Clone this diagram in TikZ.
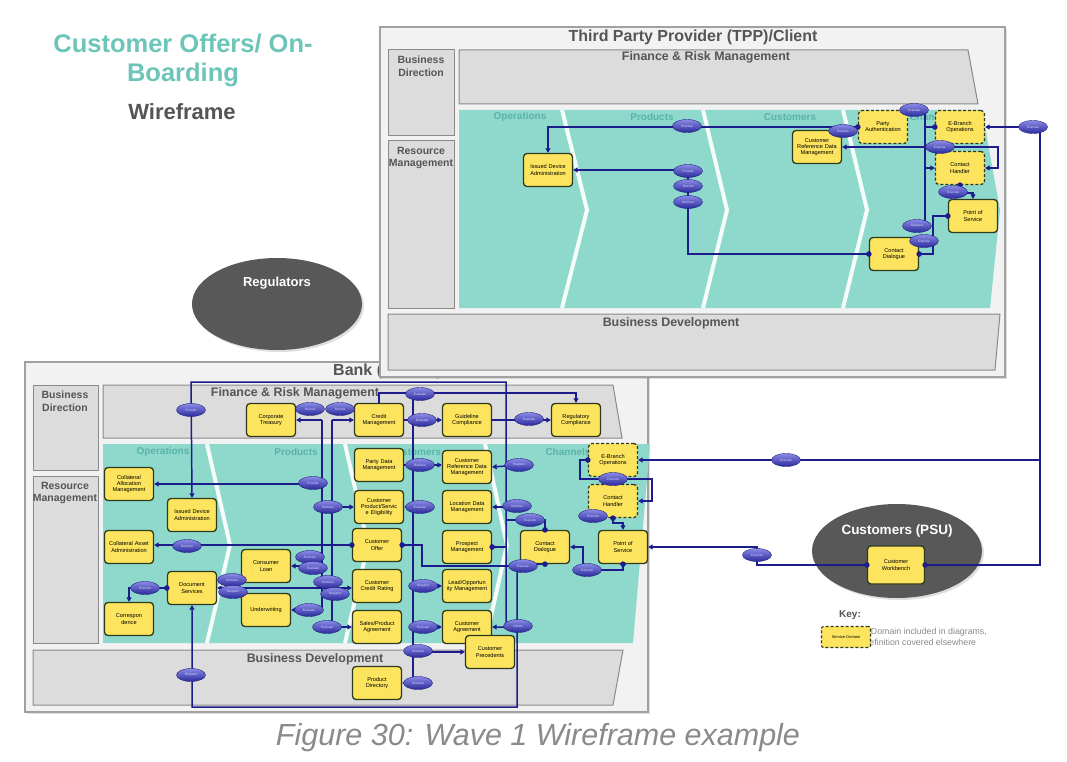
\documentclass[tikz,border=0pt]{standalone}
\usepackage{fontspec}
\setmainfont{Liberation Sans}
\usetikzlibrary{shapes.geometric,arrows.meta,calc,shadows}
\hyphenpenalty=10000
\exhyphenpenalty=10000
\definecolor{teal1}{HTML}{8FD9CC}
\definecolor{lanetxt}{HTML}{5AB3A7}
\definecolor{boxgray}{HTML}{DCDCDC}
\definecolor{frameg}{HTML}{F2F2F2}
\definecolor{edgeg}{HTML}{8A8A8A}
\definecolor{conn}{HTML}{1C1C8C}
\definecolor{sdyellow}{HTML}{FDE45E}
\definecolor{sdedge}{HTML}{2E3A1E}
\definecolor{titleteal}{HTML}{6CC5B8}
\definecolor{txtgray}{HTML}{555555}
\definecolor{blobgray}{HTML}{585858}
\definecolor{actlight}{HTML}{8A8AE6}
\definecolor{actdark}{HTML}{2A2A9C}
\definecolor{captgray}{HTML}{8A8A8A}
\tikzset{
  sd/.style={draw=sdedge, fill=sdyellow, line width=1.3pt, rounded corners=3.5pt,
    minimum width=49pt, minimum height=33pt, inner sep=1pt, text width=46pt,
    align=center, font=\fontsize{5.6}{6.2}\selectfont},
  sdx/.style={sd, dash pattern=on 3pt off 2pt},
  act/.style={ellipse, minimum width=29pt, minimum height=13pt, inner sep=0pt,
    draw=actdark!80!black, line width=0.4pt, top color=actlight, bottom color=actdark,
    text=white!85!blue, font=\fontsize{3.2}{3.5}\selectfont},
  wire/.style={draw=conn, line width=1.5pt},
  wto/.style={wire, -{Triangle[length=4.5pt,width=5pt]}},
  wboth/.style={wire, {Triangle[length=4.5pt,width=5pt]}-{Triangle[length=4.5pt,width=5pt]}},
  bgbox/.style={fill=boxgray, draw=edgeg, line width=1pt},
  frame/.style={fill=frameg, draw=edgeg!80, line width=1.1pt,
    drop shadow={shadow xshift=2pt, shadow yshift=-2pt, opacity=0.25}},
  boxlbl/.style={font=\bfseries\fontsize{10.5}{12.5}\selectfont, text=txtgray, align=center},
  lane/.style={font=\bfseries\fontsize{10}{12}\selectfont, text=lanetxt},
  bigttl/.style={font=\bfseries\fontsize{12.4}{14}\selectfont, text=txtgray},
  chev/.style={draw=white!92!teal1, line width=4pt},
  blob/.style={ellipse, fill=blobgray, draw=none,
    drop shadow={shadow xshift=2pt, shadow yshift=-2pt, opacity=0.25}},
}
\newcommand{\wdot}[1]{\fill[conn] #1 circle (2.8pt);}
\begin{document}
\begin{tikzpicture}[x=1pt,y=-1pt]
\useasboundingbox (0,0) rectangle (1067,762);
\fill[white] (0,0) rectangle (1067,762);

% ---------- titles ----------
\node[font=\bfseries\fontsize{25.5}{28}\selectfont, text=titleteal] (ttl1) at (183,44) {Customer Offers/ On-};
\node[font=\bfseries\fontsize{25.5}{28}\selectfont, text=titleteal] (ttl2) at (183,75) {Boarding};
\node[font=\bfseries\fontsize{22}{24}\selectfont, text=txtgray] (ttl3) at (182,112) {Wireframe};

% ---------- Regulators ----------
\node[blob, minimum width=170pt, minimum height=92pt] (regblob) at (277,304) {};
\node[font=\bfseries\fontsize{13}{15}\selectfont, text=white] (regl) at (277,283) {Regulators};

% ---------- Bank frame (background) ----------
\path[frame] (25,362) rectangle (648,712);
\node[font=\bfseries\fontsize{16}{18}\selectfont, text=txtgray, anchor=west, inner sep=0pt] (banktitle) at (333,371) {Bank (ASPSP)};

% ---------- TPP frame ----------
\path[frame] (380,27) rectangle (1005,377);
\node[font=\bfseries\fontsize{16}{18}\selectfont, text=txtgray] (tpptitle) at (693,37) {Third Party Provider (TPP)/Client};
\draw[bgbox] (388,50) rectangle (454,136);
\node[boxlbl] (tbd) at (421,66) {Business\\Direction};
\draw[bgbox] (388,141) rectangle (454,308);
\node[boxlbl] (trm) at (421,158) {Resource\\Management};
\draw[bgbox] (459,50) -- (968,50) -- (978,104) -- (459,104) -- cycle;
\node[bigttl] (tfrm) at (706,57) {Finance \& Risk Management};
\fill[teal1] (459,110) -- (982,110) -- (1000,210) -- (990,308) -- (459,308) -- cycle;
\draw[chev] (562,110) -- (587,210) -- (562,308);
\draw[chev] (703,110) -- (727,210) -- (703,308);
\draw[chev] (843,110) -- (867,210) -- (843,308);
\node[lane] (tl1) at (520,117) {Operations};
\node[lane] (tl2) at (652,117) {Products};
\node[lane] (tl3) at (790,117) {Customers};
\node[lane] (tl4) at (932,117) {Channels};
\draw[bgbox] (388,314) -- (1000,314) -- (995,370) -- (388,370) -- cycle;
\node[bigttl] (tbdev) at (671,323) {Business Development};

% TPP nodes
\node[sd]  (t_ida)  at (548,170) {Issued Device Administration};
\node[sdx] (t_pa)   at (883,127) {Party Authentication};
\node[sdx] (t_eb)   at (960,127) {E-Branch Operations};
\node[sd]  (t_crdm) at (817,147) {Customer Reference Data Management};
\node[sdx] (t_ch)   at (960,168) {Contact\\Handler};
\node[sd]  (t_pos)  at (973,216) {Point of\\Service};
\node[sd]  (t_cd)   at (894,254) {Contact\\Dialogue};

% ---------- Bank background boxes ----------
\draw[bgbox] (33,385) rectangle (98,470);
\node[boxlbl] (bbd) at (65,401) {Business\\Direction};
\draw[bgbox] (33,476) rectangle (98,643);
\node[boxlbl] (brm) at (65,493) {Resource\\Management};
\draw[bgbox] (103,385) -- (613,385) -- (622,438) -- (103,438) -- cycle;
\node[bigttl] (bfrm) at (295,393) {Finance \& Risk Management};
\fill[teal1] (103,444) -- (650,444) -- (633,643) -- (103,643) -- cycle;
\draw[chev] (207,444) -- (230,545) -- (207,643);
\draw[chev] (345,444) -- (368,545) -- (345,643);
\draw[chev] (485,444) -- (507,545) -- (485,643);
\node[lane] (bl1) at (163,452) {Operations};
\node[lane] (bl2) at (296,452) {Products};
\node[lane] (bl3) at (415,452) {Customers};
\node[lane] (bl4) at (568,452) {Channels};
\draw[bgbox] (33,650) -- (623,650) -- (613,705) -- (33,705) -- cycle;
\node[bigttl] (bbdev) at (315,659) {Business Development};

% Bank nodes
\node[sd]  (b_ct)   at (271,420) {Corporate Treasury};
\node[sd]  (b_cm)   at (379,420) {Credit Management};
\node[sd]  (b_gc)   at (467,420) {Guideline Compliance};
\node[sd]  (b_rc)   at (576,420) {Regulatory Compliance};
\node[sd]  (b_pdm)  at (379,465) {Party Data Management};
\node[sd]  (b_crdm) at (467,467) {Customer Reference Data Management};
\node[sdx] (b_eb)   at (613,460) {E-Branch Operations};
\node[sd]  (b_cpse) at (379,507) {Customer Product/Servic e Eligibility};
\node[sd]  (b_ldm)  at (467,507) {Location Data Management};
\node[sdx] (b_ch)   at (613,501) {Contact\\Handler};
\node[sd]  (b_cam)  at (129,484) {Collateral Allocation Management};
\node[sd]  (b_ida)  at (192,515) {Issued Device Administration};
\node[sd]  (b_caa)  at (129,547) {Collateral Asset Administration};
\node[sd]  (b_co)   at (377,545) {Customer\\Offer};
\node[sd]  (b_pm)   at (467,547) {Prospect Management};
\node[sd]  (b_cd)   at (545,547) {Contact\\Dialogue};
\node[sd]  (b_pos)  at (623,547) {Point of\\Service};
\node[sd]  (b_ds)   at (192,588) {Document Services};
\node[sd]  (b_cl)   at (266,566) {Consumer\\Loan};
\node[sd]  (b_ccr)  at (377,586) {Customer Credit Rating};
\node[sd]  (b_lom)  at (467,586) {Lead/Opportun ity Management};
\node[sd]  (b_corr) at (129,619) {Correspon\\dence};
\node[sd]  (b_uw)   at (266,610) {Underwriting};
\node[sd]  (b_spa)  at (377,627) {Sales/Product Agreement};
\node[sd]  (b_ca)   at (467,627) {Customer Agreement};
\node[sd]  (b_cp)   at (490,652) {Customer Precedents};
\node[sd]  (b_pd)   at (377,683) {Product\\Directory};

% ---------- Customers (PSU) ----------
\node[blob, minimum width=170pt, minimum height=94pt] (psublob) at (897,551) {};
\node[font=\bfseries\fontsize{13.5}{15}\selectfont, text=white] (psul) at (897,531) {Customers (PSU)};
\node[sd, minimum width=57pt, minimum height=38pt, text width=50pt] (cw) at (896,565) {Customer Workbench};

% ---------- TPP connectors ----------
\draw[wto] (t_pa.west) -| (t_ida.north);
\draw[wto] (t_cd.west) -| (688,170) -- (t_ida.east);
\draw[wire] (914,110) -- (925,110) -- (925,226);
\draw[wire] (t_eb.west) -- (925,127);
\draw[wto] (925,168) -- (t_ch.west);
\draw[wto] (925,147) -- (t_crdm.east);
\draw[wto] (925,147) -- (998,147) |- (t_ch.east);
\draw[wto] (t_ch.south) -- (960,193) -| (t_pos.north);
\draw[wire] (t_pos.west) -| (933,254) -- (t_cd.east);
\draw[wto] (cw.east) -| (1040,127) -- (t_eb.east);
\draw[wto] (1040,460) -- (b_eb.east);
\wdot{(t_pa.west)} \wdot{(t_cd.west)} \wdot{(t_eb.west)} \wdot{(t_ch.south)}
\wdot{(t_pos.west)} \wdot{(t_cd.east)} \wdot{(cw.east)} \wdot{(cw.west)}

% ---------- Bank connectors ----------
\draw[wboth] (b_ida.north) -- (191,382) -- (506,382) -- (506,627) -- (b_ca.east);
\draw[wto] (b_cm.north) |- (576,393) -- (b_rc.north);
\draw[wire] (413,393) -- (413,683);
\draw[wto] (b_cm.east) -- (b_gc.west);
\draw[wto] (b_gc.east) -- (b_rc.west);
\draw[wire] (322,420) -- (322,610);
\draw[wto] (322,420) -- (b_ct.east);
\draw[wto] (322,484) -- (b_cam.east);
\draw[wto] (322,566) -- (b_cl.east);
\draw[wto] (322,610) -- (b_uw.east);
\draw[wire] (332,420) -- (332,627);
\draw[wto] (332,420) -- (b_cm.west);
\draw[wto] (332,507) -- (b_cpse.west);
\draw[wto] (332,627) -- (b_spa.west);
\draw[wboth] (b_ds.east) -- (b_ds.east -| b_ccr.west);
\draw[wto] (b_ds.west) -| (b_corr.north);
\draw[wto] (b_cd.south) -- (517,564) -- (517,707) -| (b_ds.south);
\draw[wire] (b_co.east) -- (422,545) |- (517,566);
\draw[wto] (b_co.west) -- (b_co.west -| b_caa.east);
\draw[wire] (b_pm.east) -- (506,547);
\draw[wto] (b_pos.south) |- (583,570) |- (b_cd.east);
\draw[wire] (b_cd.north) |- (506,520);
\draw[wto] (b_ch.south) -- (613,523) -| (b_pos.north);
\draw[wto] (b_eb.west) -- (580,460) -- (580,479) -- (652,479) |- (b_ch.east);
\draw[wto] (cw.west) -- (757,565) -- (757,547) -- (b_pos.east);
\draw[wto] (b_pdm.east) -- (b_pdm.east -| b_crdm.west);
\draw[wto] (413,507) -- (b_cpse.east);
\draw[wto] (413,586) -- (b_lom.west);
\draw[wto] (413,627) -- (b_ca.west);
\draw[wto] (413,652) -- (b_cp.west);
\draw[wto] (413,683) -- (b_pd.east);
\draw[wto] (506,466) -- (b_crdm.east);
\draw[wto] (506,507) -- (b_ldm.east);
\wdot{(b_co.east)} \wdot{(b_co.west)} \wdot{(b_ds.west)} \wdot{(b_cd.south)}
\wdot{(b_cd.north)} \wdot{(b_pm.east)} \wdot{(b_pos.south)} \wdot{(b_ch.south)}
\wdot{(b_eb.west)}

% ---------- TPP action ellipses ----------
\node[act] (ta1) at (687,126) {Retrieve};
\node[act] (ta2) at (688,171) {Provide};
\node[act] (ta3) at (688,186) {Record};
\node[act] (ta4) at (688,202) {Retrieve};
\node[act] (ta5) at (843,131) {Retrieve};
\node[act] (ta6) at (914,110) {Evaluate};
\node[act] (ta7) at (940,147) {Execute};
\node[act] (ta8) at (953,192) {Execute};
\node[act] (ta9) at (917,226) {Request};
\node[act] (ta10) at (924,241) {Execute};
\node[act] (ta11) at (1033,127) {Execute};

% ---------- Bank action ellipses ----------
\node[act] (ba1) at (191,410) {Provide};
\node[act] (ba2) at (420,394) {Evaluate};
\node[act] (ba3) at (422,420) {Evaluate};
\node[act] (ba4) at (529,419) {Evaluate};
\node[act] (ba5) at (310,409) {Record};
\node[act] (ba6) at (340,409) {Record};
\node[act] (ba7) at (420,465) {Retrieve};
\node[act] (ba8) at (519,465) {Register};
\node[act] (ba9) at (313,483) {Provide};
\node[act] (ba10) at (328,507) {Retrieve};
\node[act] (ba11) at (420,507) {Evaluate};
\node[act] (ba12) at (517,506) {Retrieve};
\node[act] (ba13) at (530,520) {Execute};
\node[act] (ba14) at (613,479) {Execute};
\node[act] (ba15) at (593,516) {Execute};
\node[act] (ba16) at (187,546) {Retrieve};
\node[act] (ba17) at (310,557) {Execute};
\node[act] (ba18) at (313,568) {Evaluate};
\node[act] (ba19) at (523,566) {Execute};
\node[act] (ba20) at (587,570) {Execute};
\node[act] (ba21) at (232,580) {Retrieve};
\node[act] (ba22) at (233,592) {Request};
\node[act] (ba23) at (328,582) {Retrieve};
\node[act] (ba24) at (335,594) {Request};
\node[act] (ba25) at (145,588) {Execute};
\node[act] (ba26) at (423,586) {Request};
\node[act] (ba27) at (309,610) {Evaluate};
\node[act] (ba28) at (327,627) {Evaluate};
\node[act] (ba29) at (423,627) {Evaluate};
\node[act] (ba30) at (518,626) {Initiate};
\node[act] (ba31) at (418,651) {Retrieve};
\node[act] (ba32) at (418,683) {Retrieve};
\node[act] (ba33) at (191,675) {Request};
\node[act] (ba34) at (786,460) {Execute};
\node[act] (ba35) at (757,555) {Execute};

% ---------- Key ----------
\node[font=\bfseries\fontsize{10}{12}\selectfont, text=txtgray] (keyl) at (850,615) {Key:};
\node[font=\fontsize{8.8}{10.5}\selectfont, text=captgray, align=center] (keytxt) at (913,637)
  {Service Domain included in diagrams,\\but definition covered elsewhere};
\node[sdx, minimum width=49pt, minimum height=21pt, rounded corners=2pt, line width=1.1pt,
  text width=47pt, font=\fontsize{4}{4.5}\selectfont] (keybox) at (846,637) {Service Domain};

% ---------- Caption ----------
\node[font=\itshape\fontsize{30.5}{33}\selectfont, text=captgray] (capt) at (538,738) {Figure 30: Wave 1 Wireframe example};
\end{tikzpicture}
\end{document}
